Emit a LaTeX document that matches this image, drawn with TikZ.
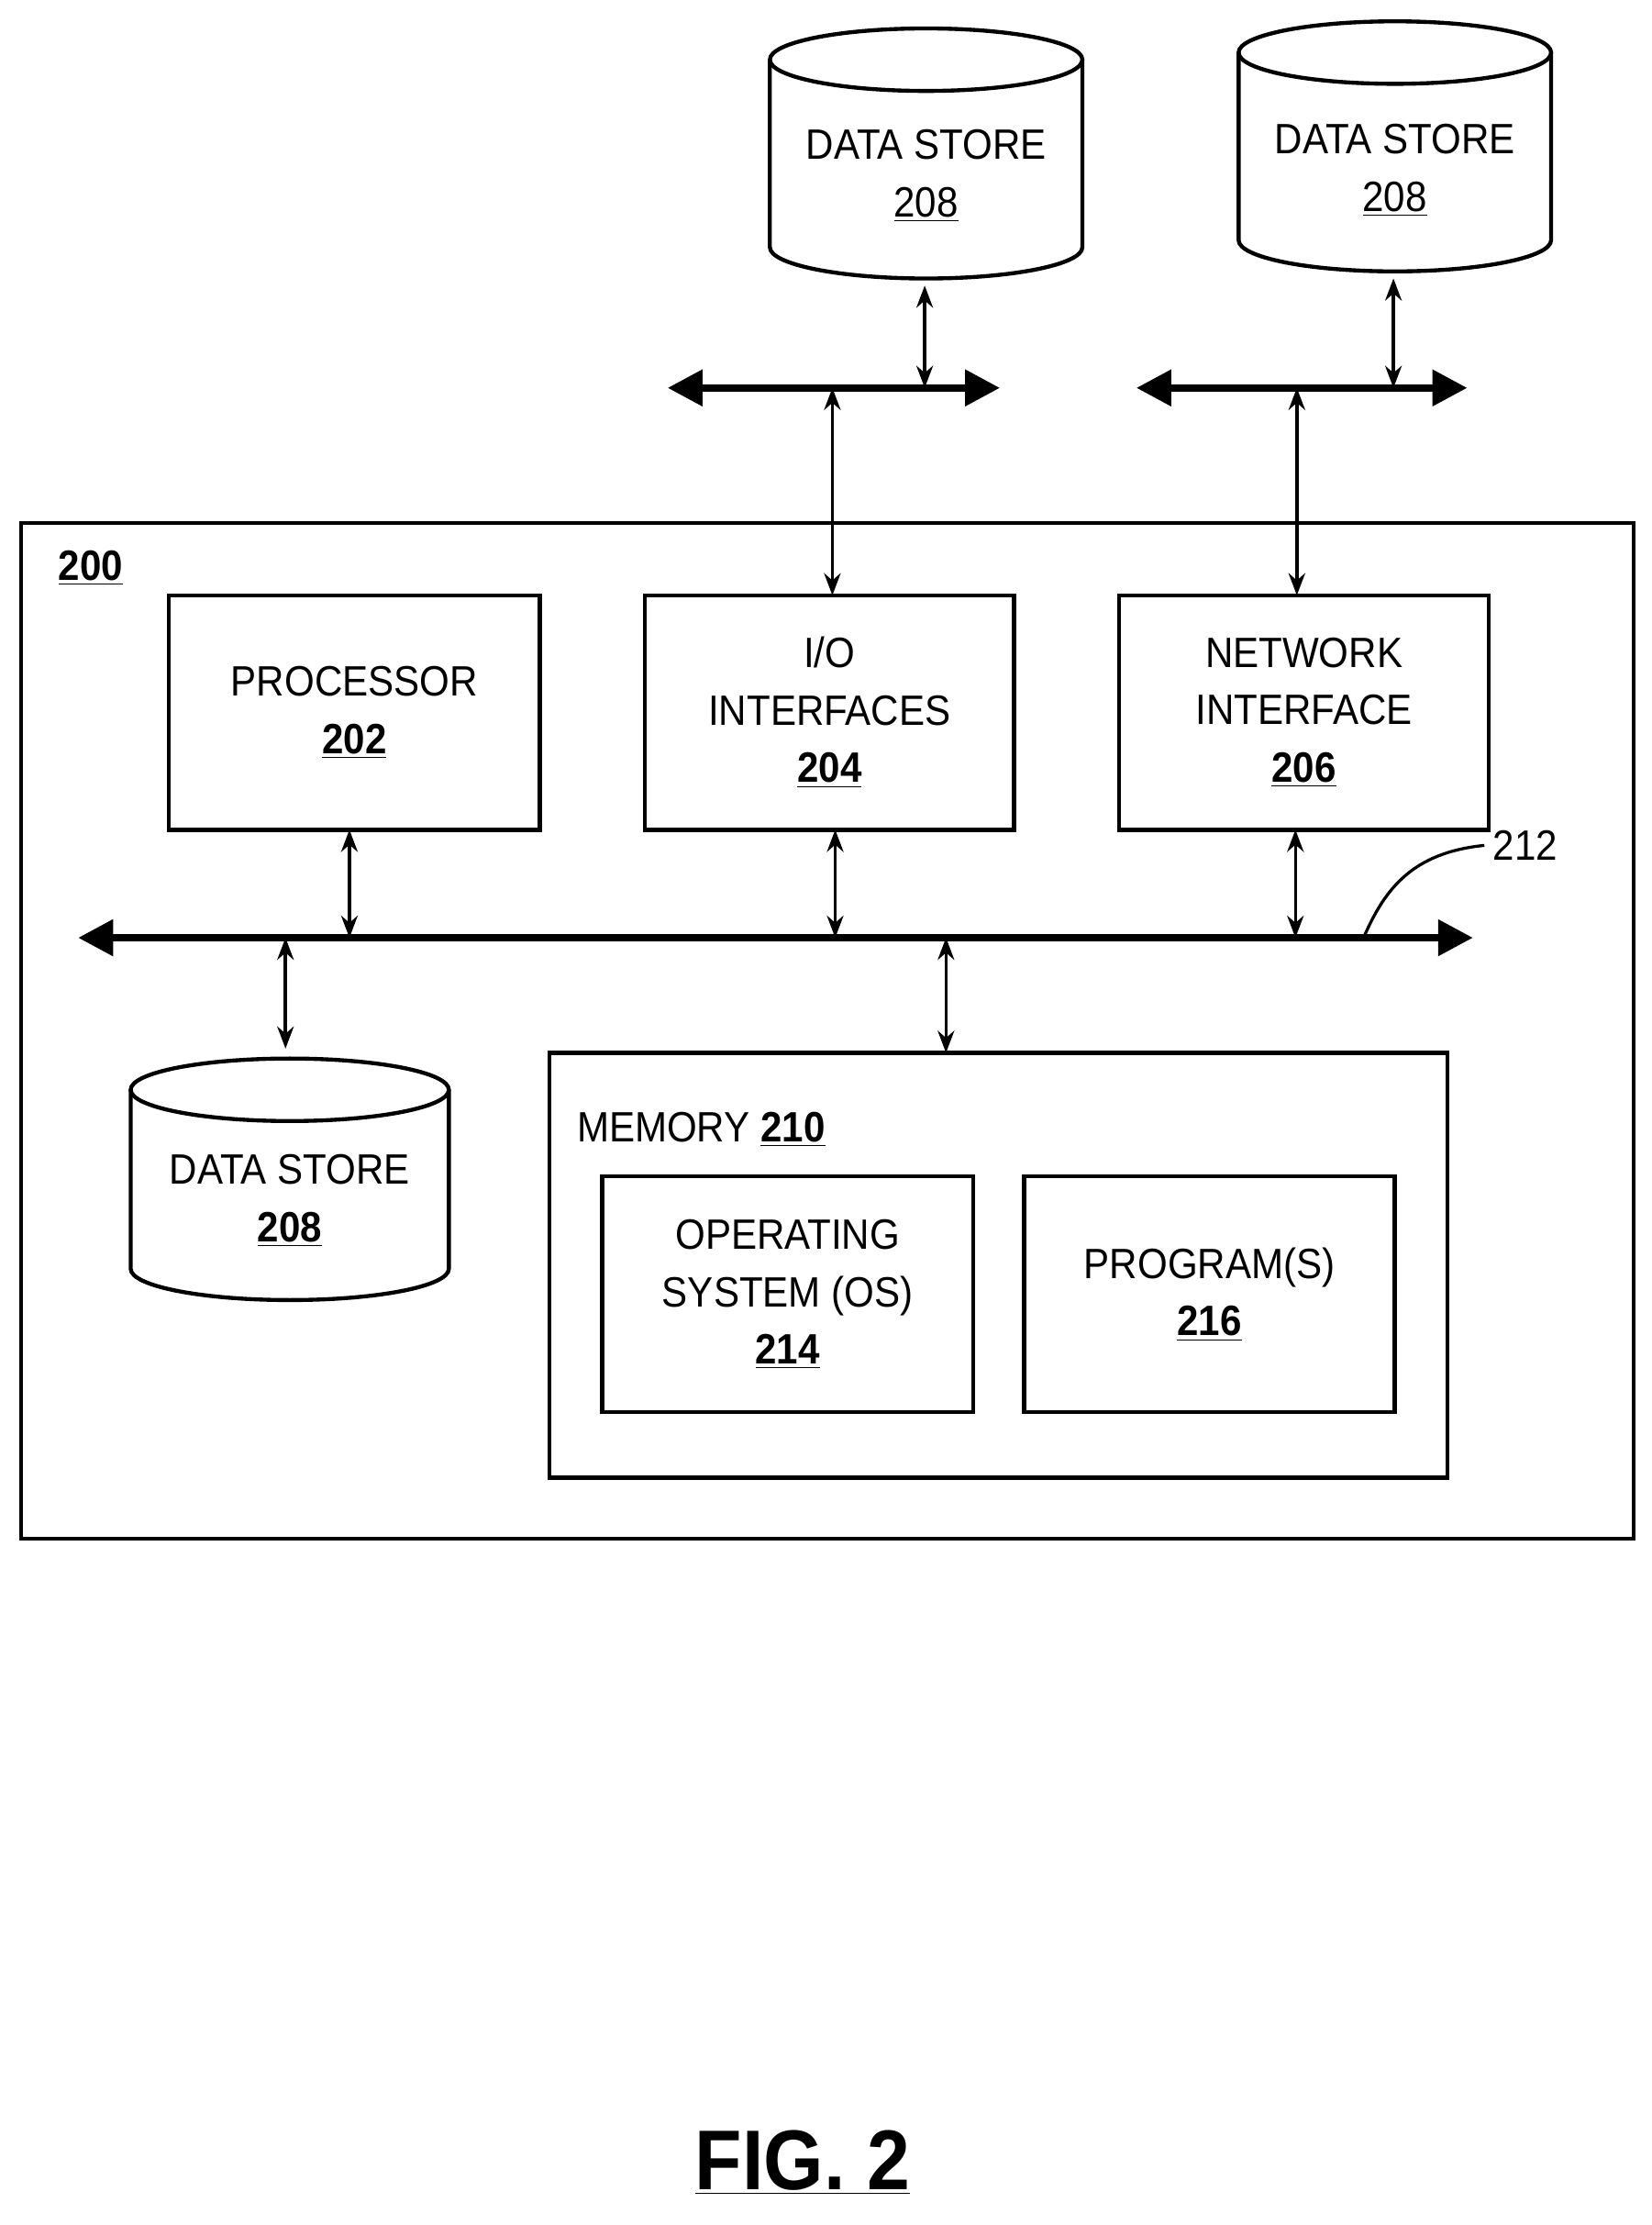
\documentclass[tikz,border=0pt]{standalone}
\usepackage{fontspec}
\setmainfont{Liberation Sans}[FakeStretch=0.91]
\usetikzlibrary{arrows.meta}
\begin{document}
\begin{tikzpicture}[x=0.02cm,y=-0.02cm,
 box/.style={draw,line width=1.6pt},
 lbl/.style={font=\fontsize{17}{23}\selectfont,align=center},
 io/.style={Stealth-Stealth,line width=1.3pt},
 bus/.style={line width=3pt,{Triangle[length=14pt,width=14pt]}-{Triangle[length=14pt,width=14pt]}}]
\useasboundingbox (0,0) rectangle (1163,1566);
\newcommand{\cyl}[5]{% cx, yt, yb, w, name
 \draw[line width=1.6pt] (#1,#2) ellipse [x radius=#4, y radius=22];
 \draw[line width=1.6pt] (#1-#4,#2) -- (#1-#4,#3) arc[start angle=180,end angle=0,x radius=#4,y radius=22] -- (#1+#4,#2);
 \coordinate (#5t) at (#1,#2-22); \coordinate (#5b) at (#1,#3+22);}
% outer
\node[box,minimum width=1135*0.02cm,minimum height=715*0.02cm,inner sep=0] (outer) at (582.5,725.5) {};
\node[lbl,font=\fontsize{17}{23}\selectfont\bfseries] (l200) at (64,400) {\underline{200}};
\node[box,minimum width=261*0.02cm,minimum height=165*0.02cm,inner sep=0] (proc) at (249.5,501.5) {};
\node[lbl] at (proc) {PROCESSOR\\\textbf{\underline{202}}};
\node[box,minimum width=260*0.02cm,minimum height=165*0.02cm,inner sep=0] (iob) at (584,501.5) {};
\node[lbl] at (iob) {I/O\\INTERFACES\\\textbf{\underline{204}}};
\node[box,minimum width=260*0.02cm,minimum height=165*0.02cm,inner sep=0] (net) at (918,501.5) {};
\node[lbl] at (net) {NETWORK\\INTERFACE\\\textbf{\underline{206}}};
% bus
\coordinate (bl) at (55,660); \coordinate (br) at (1037,660);
\draw[bus] (bl) -- (br);
\draw[io] (246,584) -- (246,660);
\draw[io] (588,584) -- (588,660);
\draw[io] (912,584) -- (912,660);
\draw[io] (201,660) -- (201,738);
\draw[io] (666,660) -- (666,741);
\node[lbl,anchor=west] (l212) at (1045,595) {212};
\draw[line width=1.2pt] (960,660) .. controls (975,625) and (995,600) .. (l212.west);
% left data store
\cyl{204}{767}{893}{112}{dsl}
\node[lbl] (dsltext) at (204,845) {DATA STORE\\\textbf{\underline{208}}};
% memory
\node[box,minimum width=632*0.02cm,minimum height=299*0.02cm,inner sep=0] (mem) at (703,890.5) {};
\node[lbl,anchor=west] (memt) at (400,795) {MEMORY \textbf{\underline{210}}};
\node[box,minimum width=261*0.02cm,minimum height=166*0.02cm,inner sep=0] (os) at (554.5,911) {};
\node[lbl] at (os) {OPERATING\\SYSTEM (OS)\\\textbf{\underline{214}}};
\node[box,minimum width=261*0.02cm,minimum height=166*0.02cm,inner sep=0] (prog) at (851.5,911) {};
\node[lbl] at (prog) {PROGRAM(S)\\\textbf{\underline{216}}};
% top data stores
\cyl{652}{42}{174}{110}{ds1}
\node[lbl] at (652,124) {DATA STORE\\\underline{208}};
\cyl{982}{37}{169}{110}{ds2}
\node[lbl] at (982,120) {DATA STORE\\\underline{208}};
\draw[bus] (470,273) -- (704,273);
\draw[bus] (800,273) -- (1033,273);
\draw[io] (651,201) -- (651,273);
\draw[io] (586,273) -- (586,419);
\draw[io] (981,196) -- (981,273);
\draw[io] (913,273) -- (913,419);
\node[font=\fontsize{34}{40}\selectfont\bfseries] (fig) at (565,1522) {\underline{FIG. 2}};
\end{tikzpicture}
\end{document}
